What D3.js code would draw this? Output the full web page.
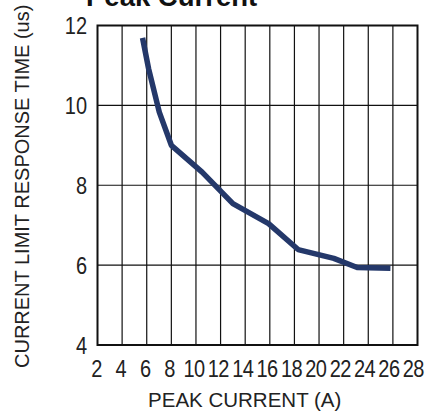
<!DOCTYPE html>
<html><head><meta charset="utf-8">
<script src="https://cdn.jsdelivr.net/npm/d3@7"></script>
<style>body{margin:0;background:#fff}svg{display:block}text{font-family:"Liberation Sans",Arial,sans-serif}</style>
</head><body>
<svg id="c" width="425" height="411"></svg>
<script>
const current = [5.66, 6.15, 7.02, 8.0, 10.5, 13.0, 15.9, 18.3, 21.2, 23.1, 25.8];
const responseTime = [11.69, 10.92, 9.83, 9.0, 8.33, 7.54, 7.04, 6.39, 6.17, 5.94, 5.92];
const xTicks = [2,4,6,8,10,12,14,16,18,20,22,24,26,28];
const yTicks = [4,6,8,10,12];

const svg = d3.select("#c");
const L = 97.5, R = 417.5, T = 25.5, B = 345;
const x = d3.scaleLinear().domain([2,28]).range([L,R]);
const y = d3.scaleLinear().domain([4,12]).range([B,T]);

// grid
svg.append("g").selectAll("line").data(xTicks.slice(1,-1)).join("line")
  .attr("x1",d=>x(d)).attr("x2",d=>x(d)).attr("y1",T).attr("y2",B)
  .attr("stroke","#111").attr("stroke-width",1.2);
svg.append("g").selectAll("line").data(yTicks.slice(1,-1)).join("line")
  .attr("y1",d=>y(d)).attr("y2",d=>y(d)).attr("x1",L).attr("x2",R)
  .attr("stroke","#111").attr("stroke-width",1.2);
svg.append("rect").attr("x",L).attr("y",T).attr("width",R-L).attr("height",B-T)
  .attr("fill","none").attr("stroke","#111").attr("stroke-width",2);

// axes labels via d3 axes
const xAxis = svg.append("g").attr("transform",`translate(-1.5,${B})`)
  .call(d3.axisBottom(x).tickValues(xTicks).tickSize(0));
const yAxis = svg.append("g").attr("transform",`translate(${L},0)`)
  .call(d3.axisLeft(y).tickValues(yTicks).tickSize(0));
[xAxis,yAxis].forEach(a=>{a.select(".domain").remove();
  a.selectAll("text").attr("font-size",20).attr("fill","#222").attr("font-family",'"Liberation Sans",Arial,sans-serif');});
xAxis.selectAll("text").attr("dy",null).attr("y",0).attr("letter-spacing",-0.6)
  .attr("transform",(d,i)=>`translate(${-i*0.25},32) scale(1,1.15)`);
yAxis.selectAll("text").attr("x",0).attr("dy",null).attr("y",0).attr("transform","translate(-10.5,8) scale(1,1.15)");

// line
const line = d3.line().x((d,i)=>x(current[i])).y((d,i)=>y(responseTime[i])).curve(d3.curveLinear);
svg.append("path").datum(current).attr("d",line).attr("fill","none")
  .attr("stroke","#24386a").attr("stroke-width",5.5).attr("stroke-linejoin","round");

// titles
svg.append("text").attr("x",86).attr("y",6).attr("font-size",27.5).attr("font-weight","bold")
  .attr("fill","#111").text("Peak Current");
svg.append("text").attr("x",244.7).attr("y",406.5).attr("text-anchor","middle").attr("font-size",20.5)
  .attr("fill","#222").text("PEAK CURRENT (A)");
svg.append("text").attr("transform","translate(28.5,368) rotate(-90)").attr("font-size",20)
  .attr("fill","#222").text("CURRENT LIMIT RESPONSE TIME (us)");
</script>
</body></html>
